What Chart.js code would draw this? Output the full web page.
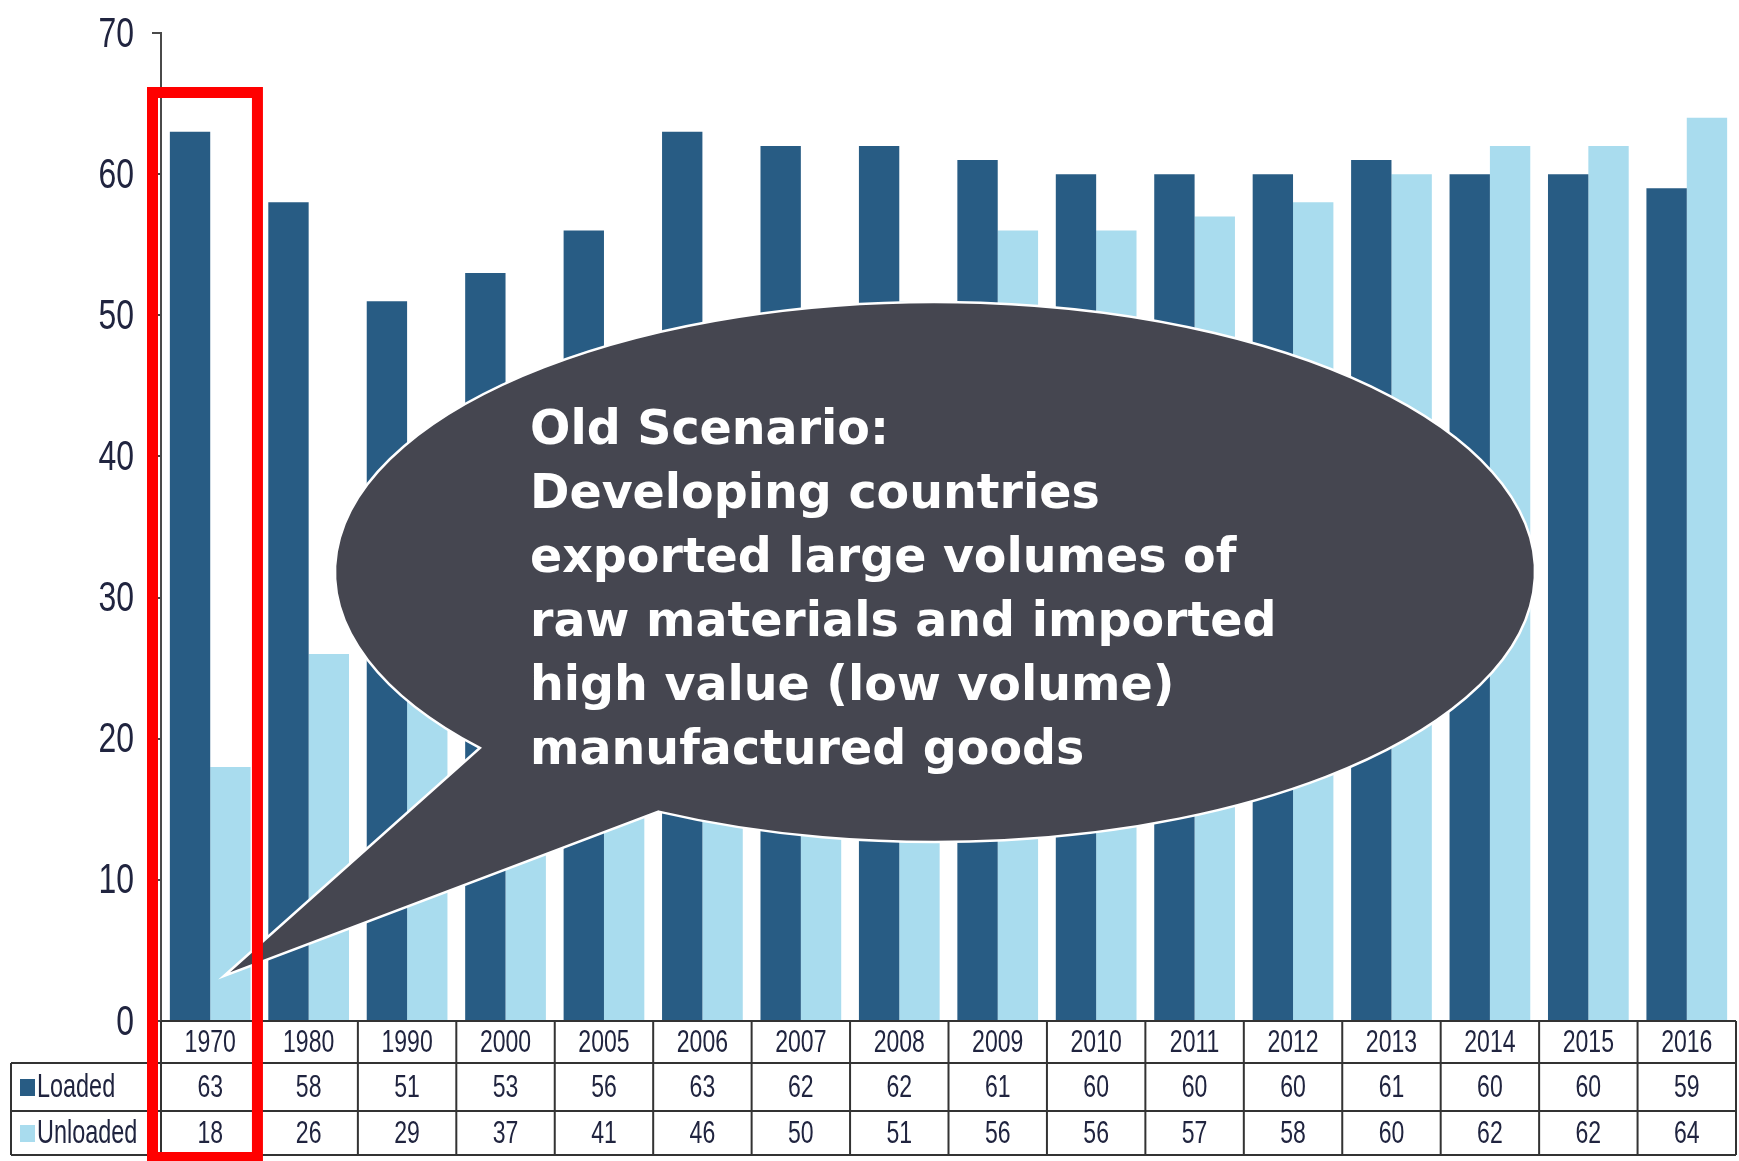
<!DOCTYPE html>
<html>
<head>
<meta charset="utf-8">
<script src="https://cdn.jsdelivr.net/npm/chart.js@4/dist/chart.umd.min.js"></script>
<style>
  html, body { margin: 0; padding: 0; background: #ffffff; }
  #wrap { width: 1739px; height: 1161px; }
</style>
</head>
<body>
<div id="wrap"><canvas id="c" width="1739" height="1161"></canvas></div>
<script>
// Seaborne trade of developing economies, share of world total (%)
const years = ['1970', '1980', '1990', '2000', '2005', '2006', '2007', '2008',
               '2009', '2010', '2011', '2012', '2013', '2014', '2015', '2016'];
const loaded   = [63, 58, 51, 53, 56, 63, 62, 62, 61, 60, 60, 60, 61, 60, 60, 59];
const unloaded = [18, 26, 29, 37, 41, 46, 50, 51, 56, 56, 57, 58, 60, 62, 62, 64];
const seriesNames = ['Loaded', 'Unloaded'];
const yTicks = [0, 10, 20, 30, 40, 50, 60, 70];
const calloutLines = [
  'Old Scenario:',
  'Developing countries',
  'exported large volumes of',
  'raw materials and imported',
  'high value (low volume)',
  'manufactured goods'
];
const highlightIndex = 0;   // the 1970 column is boxed in red

const DARK = '#285c84';
const LIGHT = '#a9dcee';
const INK = '#20243f';
const SANS = "'Liberation Sans', Arial, sans-serif";

// draw text squeezed horizontally, to get a narrow face from a regular one
function narrowText(ctx, text, x, y, squeeze) {
  ctx.save();
  ctx.translate(x, y);
  ctx.scale(squeeze, 1);
  ctx.fillText(text, 0, 0);
  ctx.restore();
}

// Y axis tick labels, placed with the y scale
const yLabelPlugin = {
  id: 'yLabels',
  afterDraw(chart) {
    const ctx = chart.ctx;
    const y = chart.scales.y;
    ctx.save();
    ctx.fillStyle = INK;
    ctx.font = '42px ' + SANS;
    ctx.textAlign = 'right';
    ctx.textBaseline = 'middle';
    yTicks.forEach(v => narrowText(ctx, String(v), 134, y.getPixelForValue(v) + 2, 0.76));
    ctx.restore();
  }
};

// Data table under the x axis (years, loaded, unloaded)
const tablePlugin = {
  id: 'dataTable',
  afterDraw(chart) {
    const ctx = chart.ctx;
    const x = chart.scales.x;
    const area = chart.chartArea;
    const n = years.length;
    const cw = (area.right - area.left) / n;
    const rows = [area.bottom, area.bottom + 42, area.bottom + 90, area.bottom + 134];
    const legendLeft = 11;
    ctx.save();
    ctx.strokeStyle = '#333333';
    ctx.lineWidth = 2;
    ctx.beginPath();
    ctx.moveTo(area.left, rows[0]); ctx.lineTo(area.right, rows[0]);
    for (let r = 1; r < rows.length; r++) {
      ctx.moveTo(legendLeft, rows[r]); ctx.lineTo(area.right, rows[r]);
    }
    ctx.moveTo(legendLeft, rows[1]); ctx.lineTo(legendLeft, rows[3]);
    for (let i = 0; i <= n; i++) {
      const bx = area.left + i * cw;
      ctx.moveTo(bx, rows[0]); ctx.lineTo(bx, rows[3]);
    }
    ctx.stroke();

    ctx.fillStyle = INK;
    ctx.font = '32px ' + SANS;
    ctx.textAlign = 'center';
    ctx.textBaseline = 'middle';
    const vals = [loaded, unloaded];
    for (let i = 0; i < n; i++) {
      const cx = x.getPixelForValue(i);
      narrowText(ctx, years[i], cx, (rows[0] + rows[1]) / 2 + 1, 0.72);
      narrowText(ctx, String(vals[0][i]), cx, (rows[1] + rows[2]) / 2 + 1, 0.72);
      narrowText(ctx, String(vals[1][i]), cx, (rows[2] + rows[3]) / 2 + 1, 0.72);
    }
    // series keys
    const colors = [DARK, LIGHT];
    ctx.textAlign = 'left';
    ctx.font = '33px ' + SANS;
    for (let s = 0; s < 2; s++) {
      const my = (rows[s + 1] + rows[s + 2]) / 2;
      ctx.fillStyle = colors[s];
      ctx.fillRect(20, my - 8, 15, 17);
      ctx.fillStyle = INK;
      narrowText(ctx, seriesNames[s], 37, my + 1, 0.71);
    }
    ctx.restore();
  }
};

// Speech-bubble callout and the red frame around the highlighted year
const calloutPlugin = {
  id: 'callout',
  afterDraw(chart) {
    const ctx = chart.ctx;
    const area = chart.chartArea;
    const x = chart.scales.x;
    const y = chart.scales.y;
    const cx = 935, cy = 572, rx = 600, ry = 270;
    const a1 = Math.atan2((749 - cy) / ry, (477 - cx) / rx);
    const a2 = Math.atan2((813 - cy) / ry, (657 - cx) / rx);
    const tip = { x: 224, y: 976 };
    ctx.save();
    ctx.beginPath();
    ctx.ellipse(cx, cy, rx, ry, 0, a1, a2 + Math.PI * 2, false);
    ctx.lineTo(tip.x, tip.y);
    ctx.closePath();
    ctx.fillStyle = '#454650';
    ctx.fill();
    ctx.lineWidth = 2.5;
    ctx.strokeStyle = '#ffffff';
    ctx.lineJoin = 'miter';
    ctx.stroke();

    ctx.fillStyle = '#ffffff';
    ctx.font = "bold 47.5px 'DejaVu Sans', Verdana, sans-serif";
    ctx.textAlign = 'left';
    ctx.textBaseline = 'alphabetic';
    calloutLines.forEach((t, i) => {
      ctx.fillText(t, 530, 444 + i * 64);
    });

    // red frame around the highlighted column
    const cw = (area.right - area.left) / years.length;
    const px = x.getPixelForValue(highlightIndex);
    ctx.strokeStyle = '#ff0000';
    ctx.lineWidth = 11;
    ctx.lineJoin = 'miter';
    const left = px - cw / 2 - 8.5;
    const right = px + cw / 2 - 2;
    const top = y.getPixelForValue(70) + 59.5;
    ctx.strokeRect(left, top, right - left, 1157.5 - top);
    ctx.restore();
  }
};

new Chart(document.getElementById('c'), {
  type: 'bar',
  data: {
    labels: years,
    datasets: [
      { label: seriesNames[0], data: loaded, backgroundColor: DARK, borderWidth: 0,
        categoryPercentage: 0.82, barPercentage: 1.0 },
      { label: seriesNames[1], data: unloaded, backgroundColor: LIGHT, borderWidth: 0,
        categoryPercentage: 0.82, barPercentage: 1.0 }
    ]
  },
  options: {
    responsive: false,
    animation: false,
    devicePixelRatio: 1,
    layout: { padding: { left: 0, right: 3, top: 33, bottom: 140 } },
    plugins: { legend: { display: false }, tooltip: { enabled: false } },
    scales: {
      x: { display: false, offset: true },
      y: {
        min: 0, max: 70,
        afterFit(scale) { scale.width = 161; scale.paddingTop = 0; scale.paddingBottom = 0; },
        afterBuildTicks(scale) { scale.ticks = yTicks.map(v => ({ value: v })); },
        border: { display: true, color: '#4a4a4a', width: 2 },
        grid: { drawOnChartArea: false, drawTicks: true, tickLength: 9, color: '#4a4a4a', lineWidth: 2 },
        ticks: { display: false }
      }
    }
  },
  plugins: [tablePlugin, yLabelPlugin, calloutPlugin]
});
</script>
</body>
</html>
